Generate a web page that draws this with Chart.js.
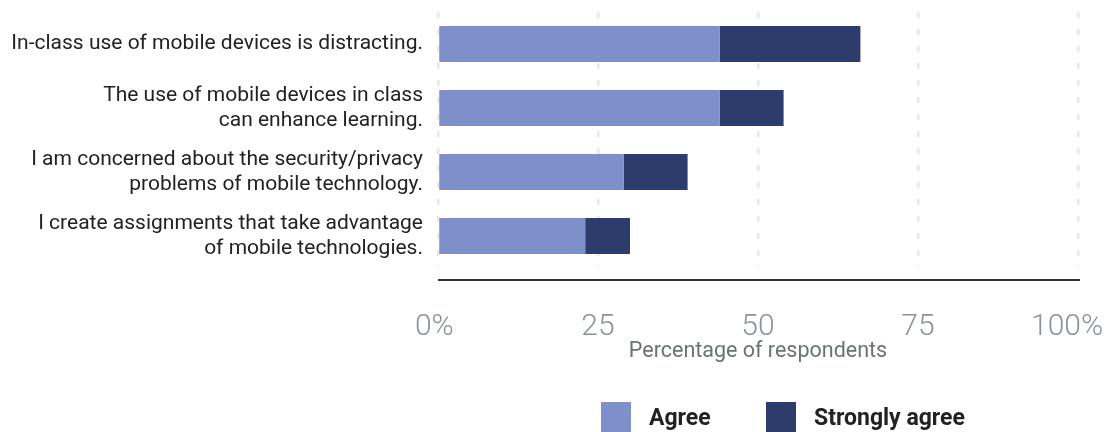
<!DOCTYPE html>
<html>
<head>
<meta charset="utf-8">
<script src="https://cdn.jsdelivr.net/npm/chart.js@4"></script>
<style>
  body { margin: 0; background: #fff; }
  #wrap { position: relative; width: 1110px; height: 432px; }
  #legend { position: absolute; left: 0; top: 402px; width: 1110px; height: 30px;
            font-family: Roboto, sans-serif; font-weight: bold; font-size: 23px; color: #222; }
  #legend span.item { position: absolute; top: 0; display: flex; align-items: center; height: 30px; }
  #legend span.box { display: inline-block; width: 30px; height: 30px; margin-right: 18px; }
</style>
</head>
<body>
<div id="wrap">
  <canvas id="mycanvas" width="1110" height="432"></canvas>
  <div id="legend"></div>
</div>
<script>
// categories (top to bottom)
var statements = [
  "In-class use of mobile devices is distracting.",
  ["The use of mobile devices in class", "can enhance learning."],
  ["I am concerned about the security/privacy", "problems of mobile technology."],
  ["I create assignments that take advantage", "of mobile technologies."]
];
var agree = [44, 44, 29, 23];          // Agree (%)
var stronglyAgree = [22, 10, 10, 7];   // Strongly agree (%)
var xTicks = [0, 25, 50, 75, 100];

var seriesNames = ["Agree", "Strongly agree"];
var seriesColors = ["#7f8fc9", "#2e3c6b"];
var legendLeft = [601, 766];

// axis line sits a bit below the plot area
var axisLine = {
  id: 'axisLine',
  afterDraw: function(chart) {
    var a = chart.chartArea, c = chart.ctx;
    c.save();
    c.strokeStyle = '#333';
    c.lineWidth = 2;
    c.beginPath();
    c.moveTo(a.left, a.bottom + 12);
    c.lineTo(a.right + 2, a.bottom + 12);
    c.stroke();
    c.restore();
  }
};

var ctx = document.getElementById('mycanvas').getContext('2d');
var chart = new Chart(ctx, {
  type: 'bar',
  data: {
    labels: statements,
    datasets: [
      { label: seriesNames[0], data: agree, backgroundColor: seriesColors[0] },
      { label: seriesNames[1], data: stronglyAgree, backgroundColor: seriesColors[1] }
    ]
  },
  plugins: [axisLine],
  options: {
    indexAxis: 'y',
    responsive: false,
    animation: false,
    layout: { padding: { top: 12, right: 32, bottom: 67 } },
    datasets: { bar: { categoryPercentage: 1, barPercentage: 0.5625 } },
    plugins: {
      legend: { display: false },
      tooltip: { enabled: false }
    },
    scales: {
      x: {
        stacked: true,
        min: 0,
        max: 100,
        afterFit: function(s) {
          s.height = 97;
          s.paddingLeft = 0; s.paddingRight = 0;
        },
        afterBuildTicks: function(s) { s.ticks = xTicks.map(function(v) { return { value: v }; }); },
        grid: { color: '#e8e8e8', lineWidth: 2.5, drawTicks: false },
        border: { display: false, dash: [6, 11] },
        ticks: {
          padding: 44,
          color: '#8a929e',
          font: { family: 'Roboto', size: 30, weight: 300, lineHeight: 1 },
          // end labels carry a % sign; trailing spaces nudge them left like the original
          callback: function(v) {
            if (v === 0) return '0% ';
            if (v === 100) return '100%   ';
            return v;
          }
        },
        title: {
          display: true,
          text: 'Percentage of respondents',
          color: '#6b717b',
          font: { family: 'Roboto', size: 21.5 },
          padding: { top: 0, bottom: 0 }
        }
      },
      y: {
        stacked: true,
        afterFit: function(s) {
          s.width = 438;
          s.paddingTop = 0; s.paddingBottom = 0;
        },
        grid: { display: false, drawTicks: false },
        border: { display: false },
        ticks: {
          padding: 15,
          color: '#222',
          font: { family: 'Roboto', size: 21, lineHeight: 1.2 }
        }
      }
    }
  }
});

// legend
var lg = document.getElementById('legend');
seriesNames.forEach(function(n, i) {
  var it = document.createElement('span');
  it.className = 'item';
  it.style.left = legendLeft[i] + 'px';
  it.innerHTML = '<span class="box" style="background:' + seriesColors[i] + '"></span>' + n;
  lg.appendChild(it);
});
</script>
</body>
</html>
